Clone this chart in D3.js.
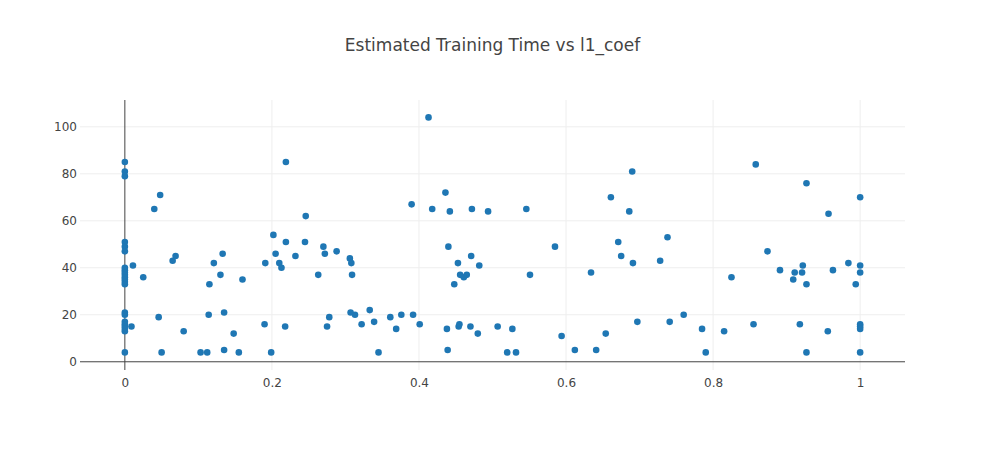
<!DOCTYPE html>
<html lang="en">
<head>
<meta charset="utf-8">
<title>Estimated Training Time vs l1_coef</title>
<style>
  body { margin: 0; background: #fff; }
  text { font-family: "DejaVu Sans", verdana, arial, sans-serif; fill: #444; }
</style>
<script src="https://cdn.jsdelivr.net/npm/d3@7"></script>
</head>
<body>
<div id="chart"></div>
<script>
// l1_coef (x) and estimated training time (y)
var l1Coef = [
  0, 0, 0, 0, 0, 0, 0, 0, 0, 0, 0, 0, 0, 0, 0, 0, 0, 0, 0, 0, 0, 0,
  0.011, 0.009, 0.025, 0.040, 0.048, 0.046, 0.050, 0.065, 0.069, 0.080,
  0.103, 0.112, 0.114, 0.115, 0.121, 0.130, 0.133, 0.135, 0.135, 0.148,
  0.155, 0.160, 0.190, 0.191, 0.199, 0.202, 0.205, 0.210, 0.213, 0.218,
  0.219, 0.219, 0.232, 0.246, 0.245, 0.263, 0.270, 0.272, 0.275, 0.278,
  0.288, 0.306, 0.308, 0.309, 0.307, 0.313, 0.322, 0.333, 0.339, 0.345,
  0.361, 0.369, 0.376, 0.390, 0.392, 0.401, 0.413, 0.418, 0.436, 0.438,
  0.439, 0.440, 0.442, 0.453, 0.448, 0.454, 0.455, 0.456, 0.461, 0.465,
  0.471, 0.472, 0.470, 0.480, 0.482, 0.494, 0.507, 0.520, 0.527, 0.532,
  0.546, 0.551, 0.585, 0.594, 0.612, 0.634, 0.641, 0.654, 0.661, 0.671,
  0.675, 0.686, 0.690, 0.691, 0.697, 0.728, 0.738, 0.741, 0.760, 0.785,
  0.790, 0.815, 0.825, 0.855, 0.858, 0.874, 0.891, 0.909, 0.911, 0.918,
  0.921, 0.922, 0.927, 0.927, 0.927, 0.956, 0.957, 0.963, 0.984, 0.994,
  1, 1, 1, 1, 1, 1, 1
];
var trainTime = [
  85, 81, 79, 51, 49, 47, 40, 39, 38, 37, 36, 35, 34, 33, 21, 20, 17, 16, 15, 14, 13, 4,
  41, 15, 36, 65, 71, 19, 4, 43, 45, 13,
  4, 4, 20, 33, 42, 37, 46, 21, 5, 12,
  4, 35, 16, 42, 4, 54, 46, 42, 40, 15,
  85, 51, 45, 62, 51, 37, 49, 46, 15, 19,
  47, 44, 42, 37, 21, 20, 16, 22, 17, 4,
  19, 14, 20, 67, 20, 16, 104, 65, 72, 14,
  5, 49, 64, 42, 33, 15, 16, 37, 36, 37,
  45, 65, 15, 12, 41, 64, 15, 4, 14, 4,
  65, 37, 49, 11, 5, 38, 5, 12, 70, 51,
  45, 64, 81, 42, 17, 43, 53, 17, 20, 14,
  4, 13, 36, 16, 84, 47, 39, 35, 38, 16,
  38, 41, 76, 33, 4, 13, 63, 39, 42, 33,
  70, 41, 38, 16, 15, 14, 4
];
var xTicks = [0, 0.2, 0.4, 0.6, 0.8, 1];
var yTicks = [0, 20, 40, 60, 80, 100];
var chartTitle = "Estimated Training Time vs l1_coef";

var W = 985, H = 450;
var margin = { top: 100, right: 80, bottom: 80, left: 80 };

var svg = d3.select("#chart").append("svg")
  .attr("width", W).attr("height", H);

var x = d3.scaleLinear().domain([-0.061, 1.061])
  .range([margin.left, W - margin.right]);
var y = d3.scaleLinear().domain([-3.5, 111.4])
  .range([H - margin.bottom, margin.top]);

// grid
svg.append("g").selectAll("line").data(xTicks.filter(function (d) { return d !== 0; }))
  .enter().append("line")
  .attr("x1", function (d) { return x(d); }).attr("x2", function (d) { return x(d); })
  .attr("y1", margin.top).attr("y2", H - margin.bottom)
  .attr("stroke", "#eee").attr("stroke-width", 1);
svg.append("g").selectAll("line").data(yTicks.filter(function (d) { return d !== 0; }))
  .enter().append("line")
  .attr("y1", function (d) { return y(d); }).attr("y2", function (d) { return y(d); })
  .attr("x1", margin.left).attr("x2", W - margin.right)
  .attr("stroke", "#eee").attr("stroke-width", 1);

// zero lines
svg.append("line")
  .attr("x1", x(0)).attr("x2", x(0))
  .attr("y1", margin.top).attr("y2", H - margin.bottom)
  .attr("stroke", "#444").attr("stroke-width", 1);
svg.append("line")
  .attr("x1", margin.left).attr("x2", W - margin.right)
  .attr("y1", y(0)).attr("y2", y(0))
  .attr("stroke", "#444").attr("stroke-width", 1);

// axes (labels only)
var xAxis = svg.append("g")
  .attr("transform", "translate(0," + (H - margin.bottom) + ")")
  .call(d3.axisBottom(x).tickValues(xTicks).tickSize(0).tickPadding(8)
    .tickFormat(function (d) { return d3.format("")(d); }));
var yAxis = svg.append("g")
  .attr("transform", "translate(" + margin.left + ",0)")
  .call(d3.axisLeft(y).tickValues(yTicks).tickSize(0).tickPadding(3));
[xAxis, yAxis].forEach(function (g) {
  g.select(".domain").remove();
  g.selectAll("text").attr("fill", "#444")
    .style("font-size", "12px")
    .style("font-family", "'DejaVu Sans', verdana, arial, sans-serif");
});

// points
svg.append("g").selectAll("circle")
  .data(l1Coef.map(function (d, i) { return [d, trainTime[i]]; }))
  .enter().append("circle")
  .attr("cx", function (d) { return x(d[0]); })
  .attr("cy", function (d) { return y(d[1]); })
  .attr("r", 3.3)
  .attr("fill", "#1f77b4");

// title
svg.append("text")
  .attr("x", W / 2).attr("y", 51)
  .attr("text-anchor", "middle")
  .style("font-size", "17px")
  .text(chartTitle);
</script>
</body>
</html>
